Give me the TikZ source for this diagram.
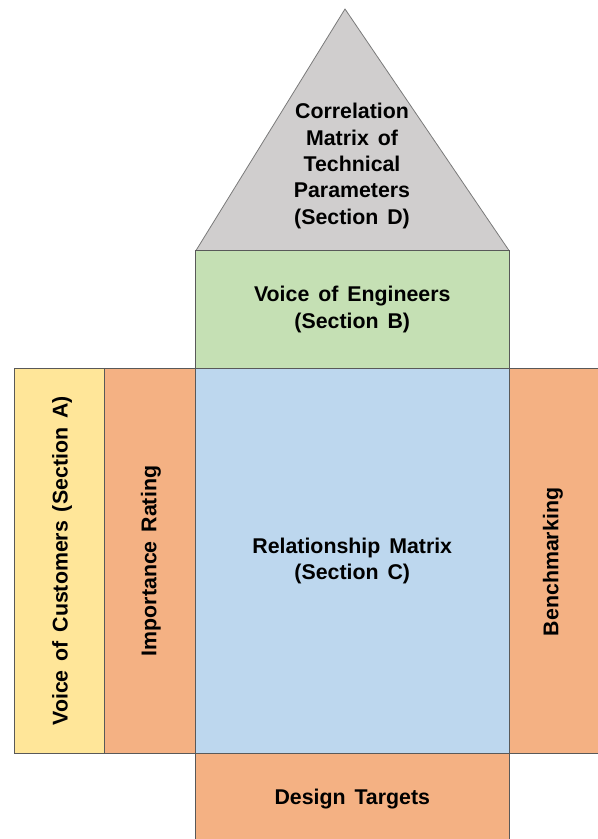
\documentclass[tikz,border=0pt]{standalone}
\usepackage{fontspec}
\setmainfont{Liberation Sans}[WordSpace=1.5]
\usepackage{tikz}
\usetikzlibrary{positioning}
\definecolor{qgray}{HTML}{D0CECE}
\definecolor{qgreen}{HTML}{C5E0B4}
\definecolor{qblue}{HTML}{BDD7EE}
\definecolor{qorange}{HTML}{F4B183}
\definecolor{qyellow}{HTML}{FFE699}
\definecolor{qedge}{HTML}{595959}
\tikzset{%
	room/.style  = {draw=qedge, line width=0.75pt, rectangle, inner sep=0pt, outer sep=0pt, align=center,
	                font=\fontsize{16}{19.8}\selectfont\bfseries}, % box of the house
	side/.style  = {room, minimum height=288.75pt}, % lower row
	label/.style = {align=center, font=\fontsize{16}{19.8}\selectfont\bfseries}, % text only
}
\begin{document}
\begin{tikzpicture}[x=0.75pt, y=-0.75pt]
		\useasboundingbox (0,0) rectangle (598,839);
		\clip (0,0) rectangle (598,839);
		% roof
		\coordinate (roofL) at (196,250.5);
		\coordinate (roofR) at (509,250.5);
		\coordinate (apex) at (345,9);
		\draw[fill=qgray, draw=qedge!80, line width=0.6pt] (roofL) -- (apex) -- (roofR) -- cycle;
		\node[label] (corr) at (352,166) {Correlation\\Matrix of\\Technical\\Parameters\\(Section D)};
		% floors
		\node[room, fill=qgreen, minimum width=235.125pt, minimum height=88.5pt] (eng) at (352.25,309.5) {Voice of Engineers\\(Section B)};
		\node[side, fill=qyellow, minimum width=67.875pt] (voc) at (59.25,561) {};
		\node[side, fill=qorange, minimum width=68.25pt] (imp) at (150,561) {};
		\node[side, fill=qblue, minimum width=235.125pt] (rel) at (352.25,561) {Relationship Matrix\\(Section C)};
		\node[side, fill=qorange, minimum width=68.25pt] (bench) at (554.5,561) {};
		\node[room, fill=qorange, minimum width=235.125pt, minimum height=68.625pt] (tgt) at (352.25,799.25) {Design Targets};
		% sideways texts
		\node[label, rotate=90] at (62,561) {Voice of Customers (Section A)};
		\node[label, rotate=90] at (151,561) {Importance Rating};
		\node[label, rotate=90] at (553,562) {Benchmarking};
		\end{tikzpicture}
\end{document}
